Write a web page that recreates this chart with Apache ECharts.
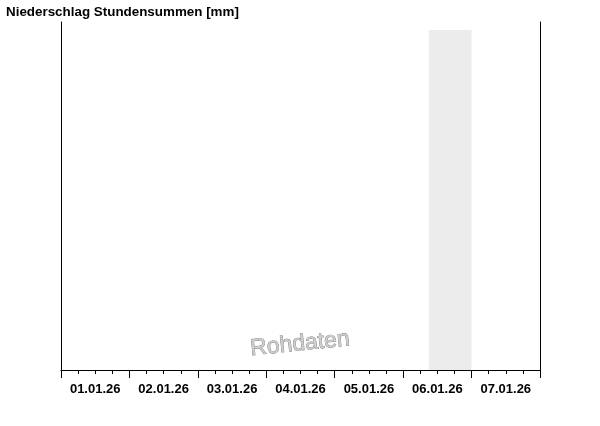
<!DOCTYPE html>
<html><head><meta charset="utf-8">
<script src="https://cdn.jsdelivr.net/npm/echarts@6/dist/echarts.min.js"></script>
<style>html,body{margin:0;padding:0;background:#fff}#c{width:600px;height:426px}</style>
</head><body><div id="c"></div>
<script>
// Data
var titleText = 'Niederschlag Stundensummen [mm]';
var dayLabels = ['01.01.26','02.01.26','03.01.26','04.01.26','05.01.26','06.01.26','07.01.26'];
var hourMin = 0, hourMax = 168, hourStep = 24;
var yMin = 0, yMax = 10;
var precipHours = [];   // hour offsets with precipitation (none visible)
var precipValues = [];  // mm per hour (none visible)
var bandStartHour = 129, bandEndHour = 144, bandTop = 9.77;
var watermark = 'Rohdaten';

var chart = echarts.init(document.getElementById('c'), null, {renderer:'canvas'});
var font = 'Liberation Sans, Arial, sans-serif';
var barData = precipHours.map(function(h,i){return [h, precipValues[i]];});
chart.setOption({
  animation:false,
  backgroundColor:'#fff',
  title:{text:titleText,left:1,top:1,textStyle:{fontFamily:font,fontSize:13.4,fontWeight:'bold',color:'#000'}},
  grid:{left:61,right:60,top:22,bottom:56},
  xAxis:[{
    type:'value',min:hourMin,max:hourMax,interval:hourStep,
    axisLine:{show:true,lineStyle:{color:'#000',width:1}},
    axisTick:{show:true,length:8,lineStyle:{color:'#000'}},
    minorTick:{show:true,splitNumber:4,length:4,lineStyle:{color:'#000'}},
    axisLabel:{show:false},splitLine:{show:false}
  },{
    type:'category',data:dayLabels,position:'bottom',boundaryGap:true,
    axisLine:{show:false},axisTick:{show:false},splitLine:{show:false},
    axisLabel:{show:true,margin:13,fontFamily:font,fontSize:13,fontWeight:'bold',color:'#000',interval:0}
  }],
  yAxis:[{
    type:'value',min:yMin,max:yMax,position:'left',
    axisLine:{show:true,lineStyle:{color:'#000'}},axisTick:{show:false},axisLabel:{show:false},splitLine:{show:false}
  },{
    type:'value',min:yMin,max:yMax,position:'right',
    axisLine:{show:true,lineStyle:{color:'#000'}},axisTick:{show:false},axisLabel:{show:false},splitLine:{show:false}
  }],
  series:[{
    type:'bar',xAxisIndex:0,yAxisIndex:0,data:barData,barWidth:2,itemStyle:{color:'#0000cc'},
    markArea:{silent:true,itemStyle:{color:'#ececec'},data:[[{xAxis:bandStartHour,yAxis:0},{xAxis:bandEndHour,yAxis:bandTop}]]},
    z:1
  }],
  graphic:[{
    type:'text',x:300,y:344,rotation:0.1,z:100,
    style:{text:watermark,fontFamily:font,fontSize:23,fill:'#cccccc',stroke:'#707070',lineWidth:0.7,align:'center',verticalAlign:'middle'}
  }]
});
</script></body></html>
